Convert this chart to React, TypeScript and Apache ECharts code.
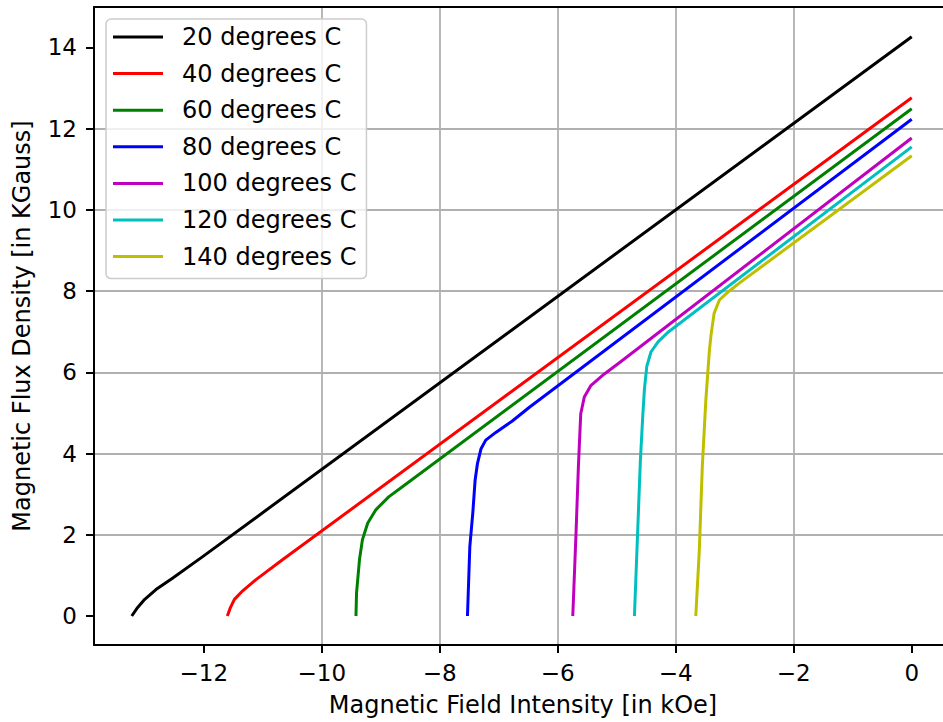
import React, { useEffect, useRef } from "react";
import * as echarts from "echarts";

// Demagnetization curves: H [kOe] vs B [kGauss]
const seriesNames = [
  "20 degrees C",
  "40 degrees C",
  "60 degrees C",
  "80 degrees C",
  "100 degrees C",
  "120 degrees C",
  "140 degrees C",
];
const seriesColors = ["#000000", "#ff0000", "#008000", "#0000ff", "#bf00bf", "#00bfbf", "#bfbf00"];

const h20 = [-13.22, -13.12, -13.0, -12.81, -12.53, -12.0, 0];
const b20 = [0, 0.21, 0.41, 0.65, 0.93, 1.48, 14.26];

const h40 = [-11.6, -11.55, -11.48, -11.34, -11.12, -10.66, 0];
const b40 = [0, 0.2, 0.41, 0.62, 0.89, 1.39, 12.76];

const h60 = [-9.42, -9.41, -9.36, -9.31, -9.22, -9.08, -8.86, -8.69, 0];
const b60 = [0, 0.57, 1.39, 1.88, 2.29, 2.62, 2.94, 3.12, 12.49];

const h80 = [-7.53, -7.49, -7.44, -7.4, -7.36, -7.3, -7.22, -7.05, -6.77, -6.48, 0];
const b80 = [0, 1.71, 2.53, 3.35, 3.76, 4.12, 4.33, 4.52, 4.8, 5.14, 12.23];

const h100 = [-5.745, -5.69, -5.65, -5.63, -5.61, -5.55, -5.44, -5.21, -4.95, 0];
const b100 = [0, 2.04, 3.67, 4.33, 4.98, 5.39, 5.67, 5.96, 6.24, 11.77];

const h120 = [-4.7, -4.65, -4.6, -4.56, -4.53, -4.49, -4.42, -4.3, -4.12, 0];
const b120 = [0, 1.9, 3.8, 4.9, 5.6, 6.15, 6.5, 6.75, 7.0, 11.55];

const h140 = [-3.66, -3.6, -3.55, -3.49, -3.43, -3.4, -3.35, -3.26, -3.12, -2.9, 0];
const b140 = [0, 1.63, 3.67, 5.31, 6.53, 6.94, 7.45, 7.78, 7.97, 8.22, 11.33];

const hSets = [h20, h40, h60, h80, h100, h120, h140];
const bSets = [b20, b40, b60, b80, b100, b120, b140];

const xTicks = [-12, -10, -8, -6, -4, -2, 0];
const yTicks = [0, 2, 4, 6, 8, 10, 12, 14];

const FONT = "DejaVu Sans";
const fmt = (v: number) => (v < 0 ? "\u2212" + Math.abs(v) : String(v));

export default function App() {
  const ref = useRef<HTMLDivElement>(null);
  useEffect(() => {
    if (!ref.current) return;
    const chart = echarts.init(ref.current, undefined, { renderer: "svg" });
    const option: any = {
      animation: false,
      backgroundColor: "#ffffff",
      grid: {
        left: 94,
        top: 7,
        right: 0,
        height: 639,
        show: false,
      },
      legend: {
        orient: "vertical",
        left: 106,
        top: 19,
        icon: "rect",
        itemWidth: 50,
        itemHeight: 3,
        itemGap: 12.6,
        data: seriesNames,
        textStyle: {
          fontFamily: FONT,
          fontSize: 24,
          color: "#000",
          lineHeight: 24,
          padding: [0, 0, 0, 14],
        },
        backgroundColor: "rgba(255,255,255,0.8)",
        borderColor: "#cccccc",
        borderWidth: 1.5,
        borderRadius: 5,
        padding: [6, 10, 10, 7],
      },
      xAxis: [
        {
          type: "value",
          min: -13.86,
          max: 0.53,
          splitNumber: 7,
          name: "Magnetic Field Intensity [in kOe]",
          nameLocation: "middle",
          nameGap: 48,
          nameTextStyle: { fontFamily: FONT, fontSize: 24, color: "#000", padding: [0, 0, 0, 9] },
          axisLine: { show: true, onZero: false, lineStyle: { color: "#000", width: 2 } },
          axisTick: { show: true, length: 8, lineStyle: { color: "#000", width: 2 }, customValues: xTicks },
          axisLabel: {
            customValues: xTicks,
            formatter: fmt,
            fontFamily: FONT,
            fontSize: 23,
            color: "#000",
            margin: 16,
          },
          splitLine: {
            show: true,
            showMinLine: false,
            showMaxLine: false,
            lineStyle: { color: "#b0b0b0", width: 1.8 },
          },
        },
        {
          type: "value",
          position: "top",
          min: -13.86,
          max: 0.53,
          axisLine: { show: true, onZero: false, lineStyle: { color: "#000", width: 2 } },
          axisTick: { show: false },
          axisLabel: { show: false },
          splitLine: { show: false },
        },
      ],
      yAxis: {
        type: "value",
        min: -0.714,
        max: 14.994,
        splitNumber: 8,
        name: "Magnetic Flux Density [in KGauss]",
        nameLocation: "middle",
        nameGap: 60,
        nameTextStyle: { fontFamily: FONT, fontSize: 24, color: "#000" },
        axisLine: { show: true, onZero: false, lineStyle: { color: "#000", width: 2 } },
        axisTick: { show: true, length: 8, lineStyle: { color: "#000", width: 2 }, customValues: yTicks },
        axisLabel: {
          customValues: yTicks,
          formatter: fmt,
          fontFamily: FONT,
          fontSize: 23,
          color: "#000",
          margin: 17,
        },
        splitLine: {
          show: true,
          showMinLine: false,
          showMaxLine: false,
          lineStyle: { color: "#b0b0b0", width: 1.8 },
        },
      },
      series: seriesNames.map((name, i) => ({
        name,
        type: "line",
        xAxisIndex: 0,
        data: hSets[i].map((h, j) => [h, bSets[i][j]]),
        showSymbol: false,
        symbol: "none",
        smooth: false,
        color: seriesColors[i],
        lineStyle: { color: seriesColors[i], width: 3, join: "round" },
        z: 3,
      })),
    };
    chart.setOption(option);
    return () => chart.dispose();
  }, []);
  return (
    <div
      ref={ref}
      style={{ position: "fixed", left: 0, top: 0, width: 943, height: 722 }}
    />
  );
}
